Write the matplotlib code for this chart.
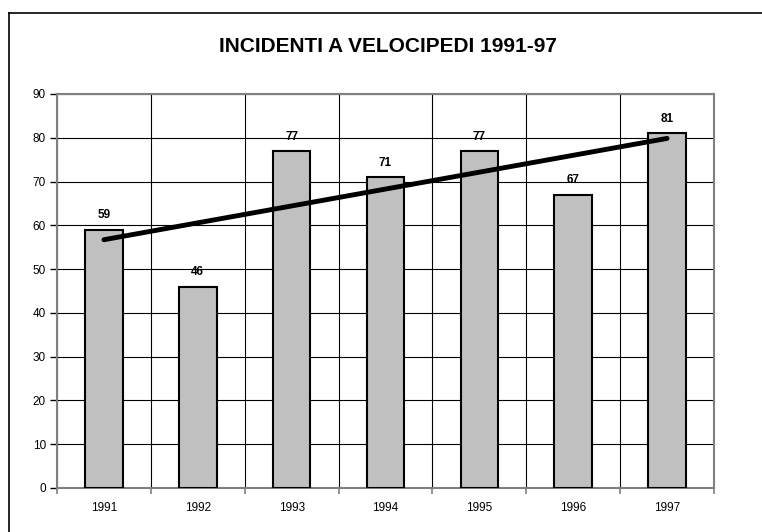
import matplotlib.pyplot as plt
import numpy as np
from matplotlib.lines import Line2D

years = ["1991", "1992", "1993", "1994", "1995", "1996", "1997"]
incidenti = [59, 46, 77, 71, 77, 67, 81]
title = "INCIDENTI A VELOCIPEDI 1991-97"

plt.rcParams['font.family'] = ['Liberation Sans', 'DejaVu Sans']

fig = plt.figure(figsize=(7.62, 5.32), dpi=100)
ax = fig.add_axes([57 / 762, 1 - 488 / 532, 657 / 762, 394 / 532])

x = np.arange(len(years))
ax.bar(x, incidenti, width=0.4, color="#c0c0c0", edgecolor="black",
       linewidth=1.5, zorder=3)

# linear trend line
k, q = np.polyfit(x, incidenti, 1)
ax.plot([x[0], x[-1]], [q + k * x[0], q + k * x[-1]], color="black",
        linewidth=3.5, solid_capstyle="round", zorder=4)

for xi, v in zip(x, incidenti):
    ax.annotate(str(v), (xi, v), xytext=(0, 6), textcoords="offset points",
                ha="center", va="bottom", fontsize=8.5, fontweight="bold",
                zorder=5)

ax.set_xlim(-0.5, len(years) - 0.5)
ax.set_ylim(0, 90)
ax.set_yticks(range(0, 91, 10))
ax.set_xticks(np.arange(-0.5, len(years), 1.0))
ax.set_xticklabels([])
ax.set_xticks(x, minor=True)
ax.set_xticklabels(years, minor=True)
ax.tick_params(axis="x", which="minor", length=0, pad=10, labelsize=8.5)
ax.tick_params(axis="x", which="major", length=4, direction="out",
               color="#808080", width=1.2)
ax.tick_params(axis="y", length=5, direction="out", color="black",
               labelsize=8.5, pad=3, width=1)

ax.grid(True, which="major", color="black", linewidth=0.8, zorder=0)
ax.set_axisbelow(True)
for s in ax.spines.values():
    s.set_color("#808080")
    s.set_linewidth(1.5)

fig.text(0.5 + 7 / 762, 1 - 47 / 532, title, ha="center", va="center",
         fontsize=15, fontweight="bold")

# outer chart border (left and top edges visible)
fig.add_artist(Line2D([9 / 762, 9 / 762], [0, 1 - 13 / 532],
                      transform=fig.transFigure, color="black", linewidth=1.2))
fig.add_artist(Line2D([9 / 762, 1], [1 - 13 / 532, 1 - 13 / 532],
                      transform=fig.transFigure, color="black", linewidth=1.2))

fig.savefig("out.png", dpi=100)
